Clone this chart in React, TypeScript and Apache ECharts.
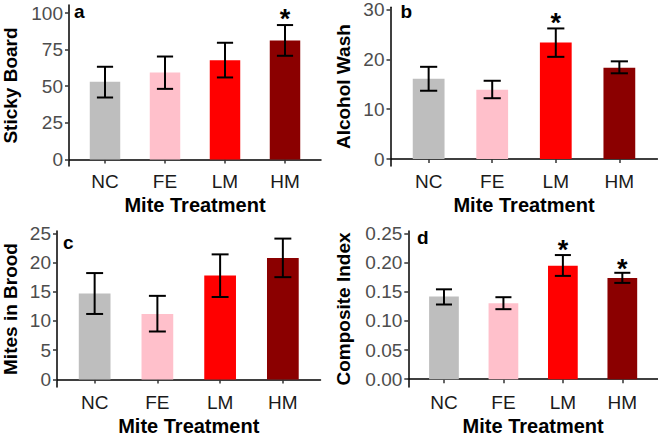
import React, { useEffect, useRef } from "react";
import * as echarts from "echarts";

// ---- data ----
const categories = ["NC", "FE", "LM", "HM"];
const barColors = ["#BEBEBE", "#FFC0CB", "#FF0000", "#8B0000"];

const stickyMean = [53.0, 59.3, 67.8, 81.2];
const stickyLow = [42.3, 48.2, 56.0, 70.8];
const stickyHigh = [63.3, 70.3, 79.7, 91.8];
const stickyStar = [null, null, null, 100];
const stickyTicks = [0, 25, 50, 75, 100];

const alcoholMean = [16.1, 13.9, 23.4, 18.3];
const alcoholLow = [13.7, 12.2, 20.5, 17.2];
const alcoholHigh = [18.5, 15.7, 26.2, 19.6];
const alcoholStar = [null, null, 28.4, null];
const alcoholTicks = [0, 10, 20, 30];

const broodMean = [14.7, 11.2, 17.8, 20.8];
const broodLow = [11.2, 8.2, 14.1, 17.5];
const broodHigh = [18.2, 14.3, 21.4, 24.1];
const broodStar = [null, null, null, null];
const broodTicks = [0, 5, 10, 15, 20, 25];

const compMean = [0.1417, 0.130, 0.1945, 0.1736];
const compLow = [0.128, 0.120, 0.177, 0.165];
const compHigh = [0.154, 0.1405, 0.2127, 0.1823];
const compStar = [null, null, 0.231, 0.199];
const compTicks = [0, 0.05, 0.1, 0.15, 0.2, 0.25];

const FONT = "'Liberation Sans', Arial, Helvetica, sans-serif";

type Panel = {
  letter: string;
  yName: string;
  mean: number[];
  low: number[];
  high: number[];
  star: (number | null)[];
  ticks: number[];
  decimals: number;
  yMin: number;
  yMax: number;
  grid: { left: number; top: number; width: number; height: number };
  nameGap: number;
  letterPos: [number, number];
};

const panels: Panel[] = [
  {
    letter: "a", yName: "Sticky Board", mean: stickyMean, low: stickyLow, high: stickyHigh,
    star: stickyStar, ticks: stickyTicks, decimals: 0, yMin: -4.5, yMax: 105.5,
    grid: { left: 65, top: 5, width: 256, height: 161 }, nameGap: 49, letterPos: [74, 11.7],
  },
  {
    letter: "b", yName: "Alcohol Wash", mean: alcoholMean, low: alcoholLow, high: alcoholHigh,
    star: alcoholStar, ticks: alcoholTicks, decimals: 0, yMin: -1.4, yMax: 30.45,
    grid: { left: 390.5, top: 5, width: 267, height: 161 }, nameGap: 38, letterPos: [400.5, 11.7],
  },
  {
    letter: "c", yName: "Mites in Brood", mean: broodMean, low: broodLow, high: broodHigh,
    star: broodStar, ticks: broodTicks, decimals: 0, yMin: -1.3, yMax: 25.4,
    grid: { left: 54, top: 231, width: 266.5, height: 161 }, nameGap: 37, letterPos: [63, 242.6],
  },
  {
    letter: "d", yName: "Composite Index", mean: compMean, low: compLow, high: compHigh,
    star: compStar, ticks: compTicks, decimals: 2, yMin: -0.0133, yMax: 0.2539,
    grid: { left: 408.3, top: 231, width: 249.7, height: 160.3 }, nameGap: 55, letterPos: [417, 237.6],
  },
];

export default function App() {
  const ref = useRef<HTMLDivElement>(null);

  useEffect(() => {
    if (!ref.current) return;
    const chart = echarts.init(ref.current, undefined, { renderer: "svg" });

    const grid: any[] = [];
    const xAxis: any[] = [];
    const yAxis: any[] = [];
    const series: any[] = [];
    const graphic: any[] = [];
    const positions = categories.map((_, i) => i + 1);

    panels.forEach((p, k) => {
      grid.push({ ...p.grid, containLabel: false });
      xAxis.push({
        type: "value",
        gridIndex: k,
        min: 0.4,
        max: 4.6,
        name: "Mite Treatment",
        nameLocation: "middle",
        nameGap: 29,
        nameTextStyle: { fontFamily: FONT, fontSize: 20, fontWeight: "bold", color: "#000" },
        axisLine: { show: true, lineStyle: { color: "#000", width: 1.5 } },
        axisTick: { show: true, length: 4, lineStyle: { color: "#333", width: 1.5 }, customValues: positions },
        axisLabel: {
          show: true,
          margin: 6,
          fontFamily: FONT,
          fontSize: 19,
          color: "#1a1a1a",
          customValues: positions,
          formatter: (v: number) => categories[Math.round(v) - 1] ?? "",
        },
        splitLine: { show: false },
      });
      yAxis.push({
        type: "value",
        gridIndex: k,
        min: p.yMin,
        max: p.yMax,
        name: p.yName,
        nameLocation: "middle",
        nameGap: p.nameGap,
        nameTextStyle: { fontFamily: FONT, fontSize: 19, fontWeight: "bold", color: "#000" },
        axisLine: { show: true, lineStyle: { color: "#000", width: 1.5 } },
        axisTick: { show: true, length: 4, lineStyle: { color: "#333", width: 1.5 }, customValues: p.ticks },
        axisLabel: {
          show: true,
          margin: 6,
          fontFamily: FONT,
          fontSize: 19,
          color: "#4D4D4D",
          customValues: p.ticks,
          formatter: (v: number) => v.toFixed(p.decimals),
        },
        splitLine: { show: false },
      });

      series.push({
        type: "bar",
        xAxisIndex: k,
        yAxisIndex: k,
        barWidth: (p.grid.width * 0.5) / 4.2,
        data: p.mean.map((m, i) => ({ value: [positions[i], m], itemStyle: { color: barColors[i] } })),
      });

      series.push({
        type: "custom",
        xAxisIndex: k,
        yAxisIndex: k,
        data: p.mean.map((_, i) => [positions[i], p.low[i], p.high[i]]),
        renderItem: (params: any, api: any) => {
          const x = api.value(0);
          const lo = api.coord([x, api.value(1)]);
          const hi = api.coord([x, api.value(2)]);
          const half = api.size([0.27, 0])[0] / 2;
          const st = { stroke: "#000", lineWidth: 2 };
          return {
            type: "group",
            children: [
              { type: "line", shape: { x1: lo[0], y1: lo[1], x2: hi[0], y2: hi[1] }, style: st },
              { type: "line", shape: { x1: lo[0] - half, y1: lo[1], x2: lo[0] + half, y2: lo[1] }, style: st },
              { type: "line", shape: { x1: hi[0] - half, y1: hi[1], x2: hi[0] + half, y2: hi[1] }, style: st },
            ],
          };
        },
        z: 5,
      });

      const starData = p.star
        .map((s, i) => (s === null ? null : [positions[i], s]))
        .filter((d) => d !== null);
      if (starData.length) {
        series.push({
          type: "custom",
          xAxisIndex: k,
          yAxisIndex: k,
          data: starData,
          renderItem: (params: any, api: any) => {
            const c = api.coord([api.value(0), api.value(1)]);
            return {
              type: "text",
              x: c[0],
              y: c[1] + 6,
              style: {
                text: "*",
                fontFamily: FONT,
                fontSize: 27,
                fontWeight: "bold",
                fill: "#000",
                align: "center",
                verticalAlign: "middle",
              },
            };
          },
          z: 6,
        });
      }

      graphic.push({
        type: "text",
        x: p.letterPos[0],
        y: p.letterPos[1],
        style: {
          text: p.letter,
          fontFamily: FONT,
          fontSize: 19,
          fontWeight: "bold",
          fill: "#000",
          align: "left",
          verticalAlign: "middle",
        },
      });
    });

    chart.setOption({
      animation: false,
      backgroundColor: "#fff",
      grid,
      xAxis,
      yAxis,
      series,
      graphic,
    });

    return () => chart.dispose();
  }, []);

  return (
    <div
      ref={ref}
      style={{ position: "fixed", left: 0, top: 0, width: 658, height: 437 }}
    />
  );
}
